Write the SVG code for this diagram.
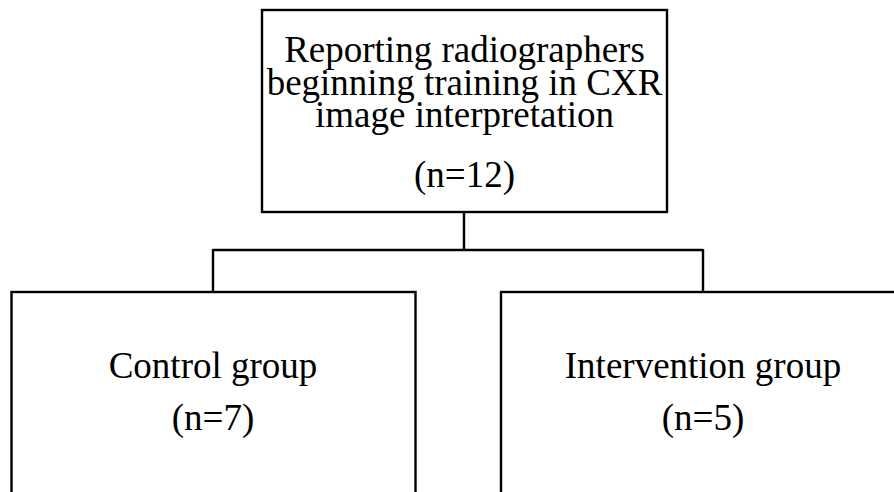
<svg xmlns="http://www.w3.org/2000/svg" width="894" height="492" viewBox="0 0 894 492">
<style>
.box{fill:#fff;stroke:#000;stroke-width:2.4}
.t{font-family:"Liberation Serif","Times New Roman",serif;font-size:37px;fill:#000;text-anchor:middle}
.c{fill:none;stroke:#000;stroke-width:2.4}
</style>
<rect width="894" height="492" fill="#fff"/>
<g id="connectors">
<path class="c" d="M464,212 V250 M213,250 H703 M213,249 V292 M703,249 V292"/>
</g>
<g id="top">
<rect class="box" x="262" y="10" width="405" height="202"/>
<text class="t" x="464.5" y="62">Reporting radiographers</text>
<text class="t" x="464.5" y="95">beginning training in CXR</text>
<text class="t" x="464.5" y="127">image interpretation</text>
<text class="t" x="464.5" y="187">(n=12)</text>
</g>
<g id="control">
<rect class="box" x="11.5" y="292" width="404" height="220"/>
<text class="t" x="213" y="378">Control group</text>
<text class="t" x="213" y="430">(n=7)</text>
</g>
<g id="intervention">
<rect class="box" x="501" y="292" width="404" height="220"/>
<text class="t" x="703" y="378">Intervention group</text>
<text class="t" x="703" y="430">(n=5)</text>
</g>
</svg>
